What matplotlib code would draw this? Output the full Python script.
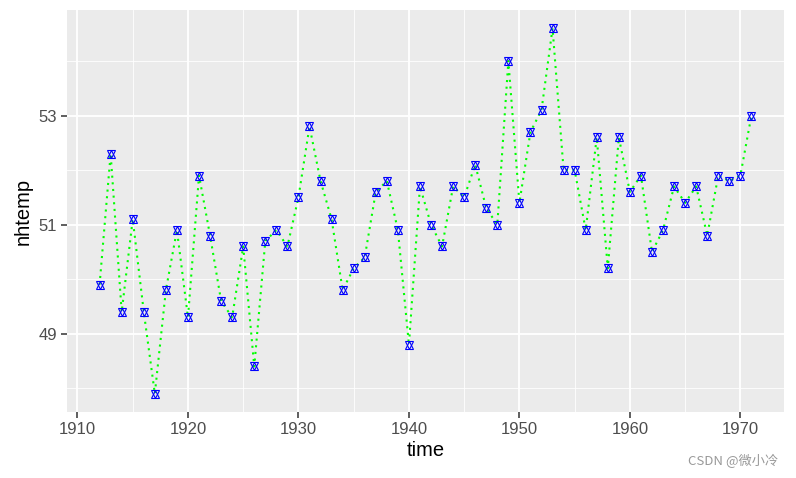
import numpy as np
import matplotlib
matplotlib.use("Agg")
import matplotlib.pyplot as plt

# New Haven annual mean temperature
years = list(range(1912, 1972))
nhtemp = [49.9, 52.3, 49.4, 51.1, 49.4, 47.9, 49.8, 50.9, 49.3, 51.9,
          50.8, 49.6, 49.3, 50.6, 48.4, 50.7, 50.9, 50.6, 51.5, 52.8,
          51.8, 51.1, 49.8, 50.2, 50.4, 51.6, 51.8, 50.9, 48.8, 51.7,
          51.0, 50.6, 51.7, 51.5, 52.1, 51.3, 51.0, 54.0, 51.4, 52.7,
          53.1, 54.6, 52.0, 52.0, 50.9, 52.6, 50.2, 52.6, 51.6, 51.9,
          50.5, 50.9, 51.7, 51.4, 51.7, 50.8, 51.9, 51.8, 51.9, 53.0]
x_ticks = [1910, 1920, 1930, 1940, 1950, 1960, 1970]
y_ticks = [49, 51, 53]

plt.rcParams['font.family'] = ['Liberation Sans', 'DejaVu Sans']

fig = plt.figure(figsize=(7.96, 4.78), dpi=100)
ax = fig.add_axes([67/796, 1-412/478, (784-67)/796, (412-10)/478])
ax.set_facecolor('#EBEBEB')

x = np.array(years)
y = np.array(nhtemp)
ax.plot(x, y, ls=(0, (1, 2.2)), color='#00FF00', lw=1.5, zorder=3)
ax.plot(x, y, marker='^', ms=6, mfc='none', mec='blue', mew=0.8, ls='none', zorder=4)
ax.plot(x, y, marker='v', ms=6, mfc='none', mec='blue', mew=0.8, ls='none', zorder=4)

xr = x.max() - x.min()
yr = y.max() - y.min()
ax.set_xlim(x.min() - 0.05 * xr, x.max() + 0.05 * xr)
ax.set_ylim(y.min() - 0.05 * yr, y.max() + 0.05 * yr)

ax.set_xticks(x_ticks)
ax.set_yticks(y_ticks)
ax.set_xticks([1915, 1925, 1935, 1945, 1955, 1965], minor=True)
ax.set_yticks([48, 50, 52, 54], minor=True)
ax.grid(which='major', color='white', lw=1.3, zorder=0)
ax.grid(which='minor', color='white', lw=0.6, zorder=0)
ax.set_axisbelow(True)
for s in ax.spines.values():
    s.set_visible(False)
ax.tick_params(which='major', length=4, width=1.1, color='#333333',
               labelcolor='#4D4D4D', labelsize=12, pad=3)
ax.tick_params(which='minor', length=0)

ax.set_xlabel('time', fontsize=14.5, color='black', labelpad=3)
ax.set_ylabel('nhtemp', fontsize=14.5, color='black', labelpad=4)

fig.text(778/796, 1-461/478, 'CSDN @微小冷', ha='right', va='center',
         fontsize=9.5, color='#999999', family=['Noto Sans CJK SC', 'DejaVu Sans'])

fig.savefig('out.png', dpi=100)
